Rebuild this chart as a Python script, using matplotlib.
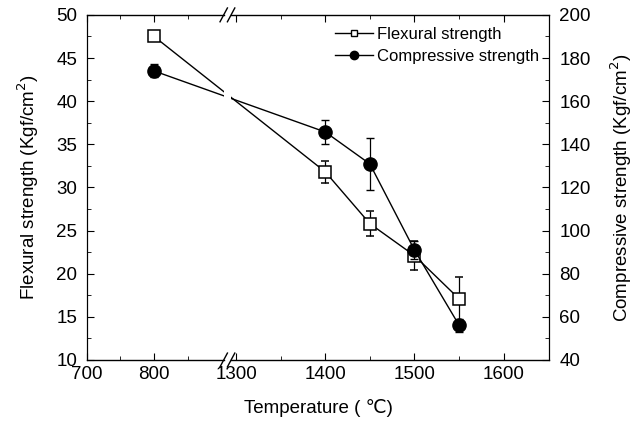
import numpy as np
import matplotlib
matplotlib.use('Agg')
import matplotlib.pyplot as plt
from matplotlib.patches import Rectangle
from matplotlib.lines import Line2D
from matplotlib.ticker import MultipleLocator, FixedLocator

plt.rcParams['font.family'] = ['Liberation Sans', 'DejaVu Sans']

# data
temp = [800, 1400, 1450, 1500, 1550]
flex = [47.5, 31.8, 25.8, 22.1, 17.1]
flex_err = [0.5, 1.3, 1.45, 1.7, 2.5]
comp = [174.0, 145.7, 130.9, 91.0, 56.2]
comp_err = [3.0, 5.4, 12.2, 4.0, 3.0]

xticks = [700, 800, 1300, 1400, 1500, 1600]
xminor = [750, 850, 1350, 1450, 1550]

# broken x axis: 700-900 squeezed on the left, 1300-1650 on the right
knots_t = [0, 700, 900, 1300, 1700, 3000]
knots_p = [-469, 0, 134, 149, 505, 1662]

def fwd(x):
    return np.interp(x, knots_t, knots_p)

def inv(p):
    return np.interp(p, knots_p, knots_t)

fig = plt.figure(figsize=(6.44, 4.25), dpi=100)
ax = fig.add_axes([0.135, 0.153, 0.7175, 0.812])
ax.set_xscale('function', functions=(fwd, inv))
ax.set_xlim(700, 1651)
ax.set_ylim(10, 50)
ax2 = ax.twinx()
ax2.set_ylim(40, 200)

ax.errorbar(temp, flex, yerr=flex_err, color='black', lw=1, marker='s', ms=8,
            mfc='white', mec='black', mew=1.1, capsize=3, elinewidth=0.9, zorder=3)
ax2.errorbar(temp, comp, yerr=comp_err, color='black', lw=1, marker='o', ms=9.5,
             mfc='black', mec='black', capsize=3, elinewidth=0.9, zorder=3)

ax.xaxis.set_major_locator(FixedLocator(xticks))
ax.xaxis.set_minor_locator(FixedLocator(xminor))
ax.set_xticklabels([str(t) for t in xticks])
ax.yaxis.set_major_locator(MultipleLocator(5))
ax.yaxis.set_minor_locator(MultipleLocator(2.5))
ax2.yaxis.set_major_locator(MultipleLocator(20))
ax2.yaxis.set_minor_locator(MultipleLocator(10))

ax.tick_params(which='both', direction='in', top=True, right=False, labelsize=13.5)
ax.tick_params(axis='y', pad=7)
ax.tick_params(axis='x', pad=4)
ax.tick_params(which='major', length=5)
ax.tick_params(which='minor', length=3)
ax2.tick_params(which='both', direction='in', labelsize=13.5, pad=7.5)
ax2.tick_params(which='major', length=5)
ax2.tick_params(which='minor', length=3)

ax.set_xlabel('Temperature ( ℃)', fontsize=13.5, labelpad=12)
ax.set_ylabel('Flexural strength (Kgf/cm$^2$)', fontsize=13.5, labelpad=11)
ax2.set_ylabel('Compressive strength (Kgf/cm$^2$)', fontsize=13.5, labelpad=13)

# axis break: gap in top and bottom spines plus // marks
b0, b1 = 0.296, 0.312
for s in ('top', 'bottom'):
    ax.spines[s].set_visible(False)
    ax2.spines[s].set_visible(False)
ax2.add_patch(Rectangle((b0, 0), b1 - b0, 1, transform=ax2.transAxes,
                        facecolor='white', edgecolor='none', zorder=5, clip_on=False))
for yy in (0, 1):
    for xa, xb in ((0, b0), (b1, 1)):
        ax2.add_line(Line2D([xa, xb], [yy, yy], transform=ax2.transAxes, color='black',
                            lw=1, clip_on=False, zorder=6))
    for xc in (b0, b1):
        ax2.add_line(Line2D([xc - 0.008, xc + 0.008], [yy - 0.02, yy + 0.02],
                            transform=ax2.transAxes, color='black', lw=1,
                            clip_on=False, zorder=6))

h1 = Line2D([], [], color='black', lw=1, marker='s', ms=5, mfc='white', mec='black')
h2 = Line2D([], [], color='black', lw=1, marker='o', ms=6, mfc='black')
ax2.legend([h1, h2], ['Flexural strength', 'Compressive strength'], loc='upper left',
           bbox_to_anchor=(0.515, 0.995), frameon=False, fontsize=12, handlelength=2.3,
           handletextpad=0.2, labelspacing=0.45, borderaxespad=0.2)

fig.savefig('out.png', dpi=100)
